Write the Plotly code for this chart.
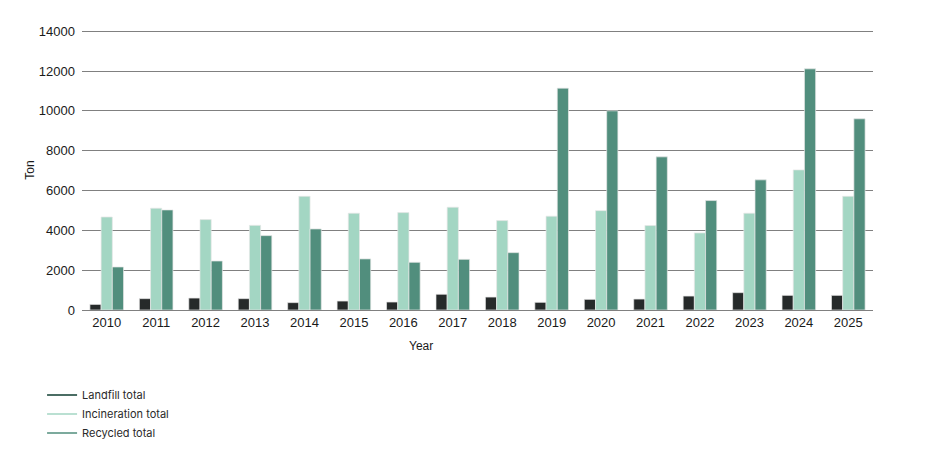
import plotly.graph_objects as go

years = [str(y) for y in range(2010, 2026)]
landfill = [280, 570, 600, 570, 370, 450, 400, 790, 650, 385, 535, 550, 700, 870, 735, 735]
incineration = [4670, 5110, 4540, 4250, 5710, 4860, 4890, 5160, 4490, 4710, 4990, 4240, 3870, 4860, 7035, 5710]
recycled = [2160, 5025, 2460, 3735, 4070, 2565, 2395, 2545, 2880, 11140, 10000, 7690, 5495, 6535, 12110, 9600]
series_names = ["Landfill total", "Incineration total", "Recycled total"]
y_ticks = [0, 2000, 4000, 6000, 8000, 10000, 12000, 14000]

bar_colors = ["#262a2a", "#a3d6c3", "#518e7d"]
legend_colors = ["#0f3d30", "#a3d6c3", "#518e7d"]

fig = go.Figure()
for name, vals, col in zip(series_names, [landfill, incineration, recycled], bar_colors):
    fig.add_trace(go.Bar(x=years, y=vals, name=name, marker=dict(color=col, line=dict(color="#e6e6e6", width=0.7)),
                         showlegend=False))
for name, col in zip(series_names, legend_colors):
    fig.add_trace(go.Scatter(x=[None], y=[None], mode="lines", name=name, line=dict(color=col, width=1.5),
                             showlegend=True))

fig.update_layout(
    width=935, height=452,
    margin=dict(l=82, r=62, t=30, b=142, autoexpand=False),
    paper_bgcolor="white", plot_bgcolor="white",
    barmode="group", bargap=0.32, bargroupgap=0,
    font=dict(family="Liberation Sans, Arial, sans-serif", size=13, color="#1a1a1a"),
    xaxis=dict(type="category", showgrid=False, showline=True, linecolor="#808080", linewidth=1,
               ticks="", tickfont=dict(size=13), fixedrange=True),
    yaxis=dict(range=[0, 14060], tickvals=y_ticks, ticktext=[str(v) for v in y_ticks],
               showgrid=True, gridcolor="#808080", gridwidth=1,
               zeroline=False, showline=False, ticks="", ticklabelstandoff=6, tickfont=dict(size=13)),
    legend=dict(xref="container", yref="container", x=0.045, y=0.158, xanchor="left", yanchor="top",
                font=dict(family="Inter, sans-serif", size=11, color="#2a2a2a"),
                itemwidth=30, tracegroupgap=0, bgcolor="rgba(0,0,0,0)"),
    annotations=[
        dict(text="Year", xref="paper", yref="paper", x=0.428, y=-0.095, xanchor="center", yanchor="top",
             showarrow=False, font=dict(size=12)),
        dict(text="Ton", xref="paper", yref="paper", x=-0.066, y=0.5, xanchor="center", yanchor="middle",
             textangle=-90, showarrow=False, font=dict(size=12)),
    ],
)

fig.write_html("out.html")
